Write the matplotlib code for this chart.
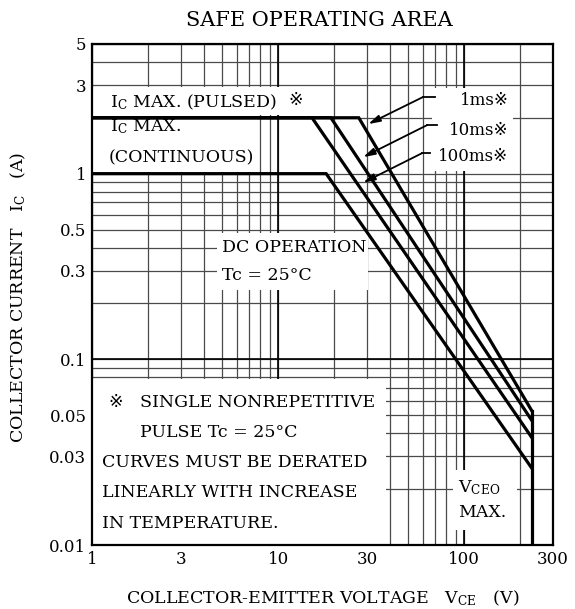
import numpy as np
import matplotlib
matplotlib.use("Agg")
from matplotlib import pyplot as plt
from matplotlib.patches import Rectangle
from matplotlib.ticker import FixedLocator, FixedFormatter, LogLocator, NullFormatter

plt.rcParams['font.family'] = ['DejaVu Serif', 'DejaVu Sans', 'Noto Sans CJK JP']
plt.rcParams['mathtext.fontset'] = 'dejavuserif'

# SOA curves: flat current limit up to the corner, then the sloped part out to VCEO max
curve_names = ["1ms", "10ms", "100ms", "DC"]
corner_v = [27.1, 19.2, 15.2, 18.1]   # V where the slope starts
corner_i = [2.0, 2.0, 2.0, 1.0]       # A, pulsed / continuous limit
end_i = [0.053, 0.047, 0.038, 0.026]  # A at VCEO max
vceo_max = 230
v_min = 1
i_floor = 0.01

x_ticks = [1, 3, 10, 30, 100, 300]
x_labels = ["1", "3", "10", "30", "100", "300"]
y_ticks = [0.01, 0.03, 0.05, 0.1, 0.3, 0.5, 1, 3, 5]
y_labels = ["0.01", "0.03", "0.05", "0.1", "0.3", "0.5", "1", "3", "5"]

fig = plt.figure(figsize=(5.75, 6.09), dpi=100)
ax = fig.add_axes([0.160, 0.105, 0.802, 0.823])
ax.set_xscale('log')
ax.set_yscale('log')
ax.set_xlim(1, 300)
ax.set_ylim(0.01, 5)

ax.xaxis.set_major_locator(FixedLocator(x_ticks))
ax.xaxis.set_major_formatter(FixedFormatter(x_labels))
ax.yaxis.set_major_locator(FixedLocator(y_ticks))
ax.yaxis.set_major_formatter(FixedFormatter(y_labels))
ax.xaxis.set_minor_locator(LogLocator(base=10, subs=np.arange(2, 10)))
ax.yaxis.set_minor_locator(LogLocator(base=10, subs=np.arange(2, 10)))
ax.xaxis.set_minor_formatter(NullFormatter())
ax.yaxis.set_minor_formatter(NullFormatter())
ax.tick_params(which='both', length=0, labelsize=12, pad=4)

ax.set_axisbelow(True)
ax.grid(which='both', color='#4a4a4a', lw=0.9)
for v in [10, 100]:
    ax.axvline(v, color='black', lw=1.2, zorder=0.6)
ax.axhline(0.1, color='black', lw=1.2, zorder=0.6)
for s in ax.spines.values():
    s.set_linewidth(1.6)

# white boxes behind the labels (axes fraction: x0, y0, x1, y1)
boxes = [
    (0.0, 0.858, 0.499, 0.914),   # pulsed
    (0.0, 0.745, 0.358, 0.858),   # continuous
    (0.271, 0.509, 0.599, 0.623), # dc operation
    (0.0, 0.0, 0.638, 0.331),     # note
    (0.783, 0.030, 0.922, 0.150), # vceo
    (0.738, 0.747, 0.913, 0.912), # ms labels
]
for x0, y0, x1, y1 in boxes:
    ax.add_patch(Rectangle((x0, y0), x1 - x0, y1 - y0, transform=ax.transAxes,
                           facecolor='white', edgecolor='none', zorder=1))

# curves
for name, cv, ci, ei in zip(curve_names, corner_v, corner_i, end_i):
    ax.plot([v_min, cv, vceo_max], [ci, ci, ei], color='black', lw=2.3,
            solid_joinstyle='miter', zorder=3)
ax.plot([vceo_max, vceo_max], [max(end_i), i_floor], color='black', lw=2.3, zorder=3)

# labels
fs = 12.5
ax.text(0.039, 0.884, r"I$_{\mathrm{C}}$ MAX. (PULSED)", transform=ax.transAxes,
        fontsize=fs, va='center', zorder=4)
ax.text(0.425, 0.886, "※", transform=ax.transAxes, fontsize=fs, va='center', zorder=4)
ax.text(0.039, 0.834, r"I$_{\mathrm{C}}$ MAX.", transform=ax.transAxes,
        fontsize=fs, va='center', zorder=4)
ax.text(0.037, 0.772, "(CONTINUOUS)", transform=ax.transAxes, fontsize=fs, va='center', zorder=4)
ax.text(0.282, 0.593, "DC OPERATION", transform=ax.transAxes, fontsize=fs, va='center', zorder=4)
ax.text(0.282, 0.537, "Tc = 25°C", transform=ax.transAxes, fontsize=fs, va='center', zorder=4)

ms_y = [0.886, 0.828, 0.776]
for name, y in zip(curve_names[:3], ms_y):
    ax.text(0.903, y, name + "※", transform=ax.transAxes, fontsize=12,
            ha='right', va='center', zorder=4)

# leader arrows: (horizontal end, elbow, tip)
leaders = [
    ((0.744, 0.894), (0.718, 0.894), (0.599, 0.840)),
    ((0.748, 0.838), (0.727, 0.838), (0.588, 0.774)),
    ((0.734, 0.782), (0.716, 0.782), (0.588, 0.723)),
]
for (hx, hy), (ex, ey), tip in leaders:
    ax.plot([hx, ex], [hy, ey], transform=ax.transAxes, color='black', lw=1.3, zorder=4)
    ax.annotate('', xy=tip, xytext=(ex, ey), xycoords='axes fraction',
                arrowprops=dict(arrowstyle='-|>,head_length=0.7,head_width=0.2',
                                color='black', lw=1.3, shrinkA=0, shrinkB=0), zorder=4)

note_rows = [
    (0.035, 0.285, "※"),
    (0.104, 0.285, "SINGLE NONREPETITIVE"),
    (0.104, 0.224, "PULSE Tc = 25°C"),
    (0.022, 0.164, "CURVES MUST BE DERATED"),
    (0.022, 0.104, "LINEARLY WITH INCREASE"),
    (0.022, 0.044, "IN TEMPERATURE."),
]
for x, y, t in note_rows:
    ax.text(x, y, t, transform=ax.transAxes, fontsize=fs, va='center', zorder=4)

ax.text(0.794, 0.114, r"V$_{\mathrm{CEO}}$", transform=ax.transAxes, fontsize=fs, va='center', zorder=4)
ax.text(0.794, 0.064, "MAX.", transform=ax.transAxes, fontsize=fs, va='center', zorder=4)

fig.text(0.556, 0.967, "SAFE OPERATING AREA", ha='center', va='center', fontsize=15)
fig.text(0.562, 0.018, r"COLLECTOR-EMITTER VOLTAGE   V$_{\mathrm{CE}}$   (V)",
         ha='center', va='center', fontsize=12.5)
fig.text(0.031, 0.512, r"COLLECTOR CURRENT   I$_{\mathrm{C}}$   (A)",
         ha='center', va='center', rotation=90, fontsize=12.5)

fig.savefig("out.png", dpi=100)
